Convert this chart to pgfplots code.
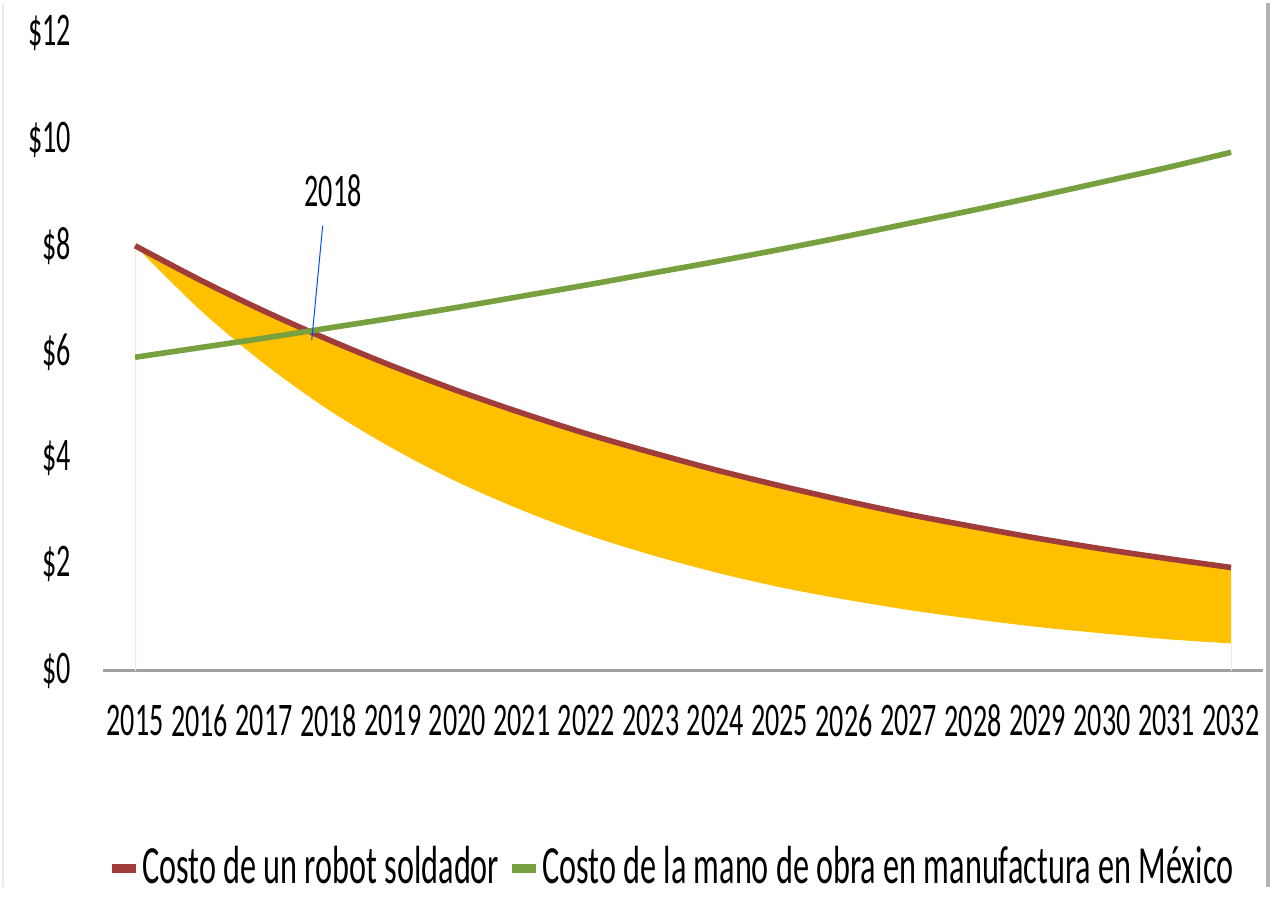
\documentclass[border=0pt]{standalone}
\usepackage{pgfplots}
\pgfplotsset{compat=1.18}
\usepgfplotslibrary{fillbetween}
\usepackage{fontspec}
\setmainfont{Carlito}[FakeStretch=0.6]

\definecolor{robot}{RGB}{160,60,58}
\definecolor{mano}{RGB}{119,160,62}
\definecolor{banda}{RGB}{255,192,0}
\definecolor{borde}{RGB}{253,232,205}

\begin{document}
\fontsize{23.5}{28}\selectfont
\begin{tikzpicture}
\path (-51.5bp,-108.5bp) rectangle (586bp,334bp);
\draw[gray!15, line width=1bp] (-50bp,-108.5bp) -- (-50bp,334bp);
\draw[gray!60, line width=2bp] (583.5bp,-108.5bp) -- (583.5bp,334bp);
\begin{axis}[
    scale only axis,
    width=581bp, height=319bp,
    xmin=2014.5, xmax=2032.5,
    ymin=0, ymax=12,
    axis x line*=bottom, axis y line*=left,
    x axis line style={-, draw={rgb,255:red,160;green,160;blue,160}, line width=1.5bp},
    y axis line style={draw=none},
    xtick={2015,...,2032},
    ytick={0,2,...,12},
    major tick length=0pt,
    /pgf/number format/assume math mode=true,
    /pgf/number format/1000 sep={},
    yticklabel={\$\pgfmathprintnumber{\tick}},
    yticklabel style={anchor=east, xshift=-8bp},
    xticklabel style={anchor=center, yshift=-25bp},
    legend style={at={(0.49,-0.31)}, anchor=center, draw=none, fill=none,
        legend columns=2, /tikz/every even column/.append style={column sep=3bp},
        nodes={inner sep=1bp},
        font=\fontsize{27}{31}\selectfont},
    legend cell align=left,
    legend image code/.code={\draw[#1, line width=4.5bp] (0bp,0bp) -- (12bp,0bp);},
]
% limites del area
\addplot[draw=none, name path=sup, forget plot, smooth] coordinates {
(2015,8.00)(2016,7.36)(2017,6.77)(2018,6.23)(2019,5.73)(2020,5.27)(2021,4.85)(2022,4.46)(2023,4.11)(2024,3.78)(2025,3.48)(2026,3.20)(2027,2.94)(2028,2.71)(2029,2.49)(2030,2.29)(2031,2.11)(2032,1.94)};
\addplot[draw=none, name path=inf, forget plot, smooth] coordinates {
(2015,8.00)(2016,6.80)(2017,5.78)(2018,4.91)(2019,4.18)(2020,3.55)(2021,3.02)(2022,2.56)(2023,2.18)(2024,1.85)(2025,1.57)(2026,1.34)(2027,1.14)(2028,0.97)(2029,0.82)(2030,0.70)(2031,0.59)(2032,0.51)};
\addplot[banda, forget plot] fill between[of=sup and inf];
\addplot[borde, line width=0.5bp, forget plot] coordinates {(2015,0)(2015,8.00)};
\addplot[borde, line width=0.5bp, forget plot] coordinates {(2032,0)(2032,0.51)};
% series
\addplot[robot, line width=2.8bp, smooth] coordinates {
(2015,8.00)(2016,7.36)(2017,6.77)(2018,6.23)(2019,5.73)(2020,5.27)(2021,4.85)(2022,4.46)(2023,4.11)(2024,3.78)(2025,3.48)(2026,3.20)(2027,2.94)(2028,2.71)(2029,2.49)(2030,2.29)(2031,2.11)(2032,1.94)};
\addlegendentry{Costo de un robot soldador}
\addplot[mano, line width=2.8bp, smooth] coordinates {
(2015,5.90)(2016,6.08)(2017,6.26)(2018,6.45)(2019,6.64)(2020,6.84)(2021,7.05)(2022,7.26)(2023,7.48)(2024,7.70)(2025,7.93)(2026,8.17)(2027,8.42)(2028,8.67)(2029,8.93)(2030,9.20)(2031,9.47)(2032,9.76)};
\addlegendentry{Costo de la mano de obra en manufactura en México}
% anotacion
\draw[blue!70!cyan, line width=0.5bp] (axis cs:2017.74,6.22) -- (axis cs:2017.91,8.38);
\node at (axis cs:2018.07,9.04) {2018};
\end{axis}
\end{tikzpicture}
\end{document}
